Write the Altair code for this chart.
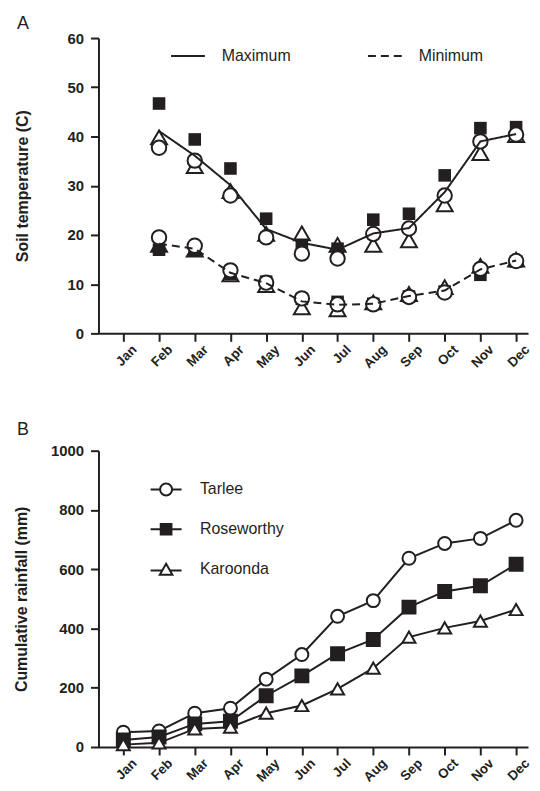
import altair as alt
import pandas as pd

months = ["Jan", "Feb", "Mar", "Apr", "May", "Jun", "Jul", "Aug", "Sep", "Oct", "Nov", "Dec"]
month_num = list(range(1, 13))
temp_num = month_num[1:]  # Feb..Dec

# Panel A: soil temperature (C), Feb-Dec
tarlee_max = [37.7, 35.1, 28.0, 19.5, 16.2, 15.2, 20.2, 21.3, 28.0, 39.0, 40.4]
rose_max = [46.7, 39.4, 33.5, 23.3, 18.0, 17.2, 23.1, 24.3, 32.1, 41.7, 41.9]
karo_max = [39.8, 34.0, 28.9, 20.2, 20.3, 18.0, 18.0, 18.9, 26.2, 36.6, 40.3]
tarlee_min = [19.5, 17.8, 12.8, 10.3, 7.1, 5.9, 5.9, 7.4, 8.3, 13.1, 14.7]
rose_min = [17.0, 16.9, 12.1, 10.5, 7.0, 6.4, 6.0, 7.5, 8.5, 11.9, 14.6]
karo_min = [18.0, 17.0, 12.0, 9.8, 5.3, 4.9, 6.3, 8.0, 9.4, 13.7, 15.0]
max_line = [41.1, 36.1, 30.1, 21.2, 18.4, 17.0, 20.3, 21.4, 28.7, 39.0, 40.5]
min_line = [18.2, 17.2, 12.3, 10.2, 6.5, 5.8, 6.0, 7.6, 8.7, 13.0, 14.8]

# Panel B: cumulative rainfall (mm), Jan-Dec
tarlee_rain = [50, 54, 114, 131, 229, 312, 441, 494, 637, 687, 704, 765]
rose_rain = [24, 34, 78, 87, 173, 240, 315, 363, 472, 525, 544, 617]
karo_rain = [8, 14, 61, 67, 114, 140, 196, 266, 371, 402, 425, 464]

sites = ["Tarlee", "Roseworthy", "Karoonda"]
kinds = ["Maximum", "Minimum"]

INK = "#231f20"
FONT = "Liberation Sans"

# ---------- data tables ----------
def site_pts(vals_max, vals_min, site):
    return pd.DataFrame({
        "m": temp_num * 2,
        "v": vals_max + vals_min,
        "site": [site] * (2 * len(temp_num)),
    })

a_tar = site_pts(tarlee_max, tarlee_min, "Tarlee")
a_ros = site_pts(rose_max, rose_min, "Roseworthy")
a_kar = site_pts(karo_max, karo_min, "Karoonda")
a_lines = pd.DataFrame({
    "m": temp_num * 2,
    "v": max_line + min_line,
    "kind": ["Maximum"] * len(temp_num) + ["Minimum"] * len(temp_num),
})

b_df = pd.DataFrame({
    "m": month_num * 3,
    "v": tarlee_rain + rose_rain + karo_rain,
    "site": ["Tarlee"] * 12 + ["Roseworthy"] * 12 + ["Karoonda"] * 12,
})

# ---------- shared encodings ----------
xscale = alt.Scale(domain=[0.304, 12.334], nice=False, zero=False)
label_expr = "[" + ",".join("'%s'" % m for m in months) + "][datum.value - 1]"
xaxis = alt.Axis(values=month_num, labelExpr=label_expr, labelAngle=-45,
                 labelAlign="right", labelBaseline="top", labelPadding=1,
                 labelOffset=6, title=None)
X = alt.X("m:Q", scale=xscale, axis=xaxis)

ya_axis = alt.Axis(values=[0, 10, 20, 30, 40, 50, 60], title="Soil temperature (C)",
                   titlePadding=37, format="d")
YA = alt.Y("v:Q", scale=alt.Scale(domain=[0, 60], nice=False), axis=ya_axis)

yb_axis = alt.Axis(values=[0, 200, 400, 600, 800, 1000], title="Cumulative rainfall (mm)",
                   titlePadding=21, format="d")
YB = alt.Y("v:Q", scale=alt.Scale(domain=[0, 1000], nice=False), axis=yb_axis)

# ---------- Panel A ----------
a_tri = alt.Chart(a_kar).mark_point(shape="triangle-up", size=256, filled=True,
                                    fill="white", stroke=INK, strokeWidth=2, opacity=1).encode(x=X, y=YA)
a_sq = alt.Chart(a_ros).mark_point(shape="square", size=160, filled=True,
                                   fill=INK, strokeWidth=0, opacity=1).encode(x=X, y=YA)
a_cir = alt.Chart(a_tar).mark_point(shape="circle", size=210, filled=True,
                                    fill="white", stroke=INK, strokeWidth=2, opacity=1).encode(x=X, y=YA)
a_ln = alt.Chart(a_lines).mark_line(color=INK, strokeWidth=2).encode(
    x=X, y=YA,
    strokeDash=alt.StrokeDash(
        "kind:N",
        scale=alt.Scale(domain=kinds, range=[[1, 0], [8, 5]]),
        legend=alt.Legend(orient="none", legendX=72, legendY=0, direction="horizontal",
                          title=None, symbolType="stroke", symbolSize=1156,
                          symbolStrokeWidth=2, symbolStrokeColor=INK,
                          labelFontSize=16, labelFont=FONT, labelColor=INK,
                          labelFontWeight="normal", labelOffset=16, columnPadding=73),
    ),
)

panel_a = alt.layer(a_tri, a_sq, a_cir, a_ln).properties(
    width=432, height=297,
    title=alt.TitleParams("A", anchor="start", frame="group", dx=-82, fontSize=18,
                          fontWeight="normal", font=FONT, color=INK, offset=-1.5),
)

# ---------- Panel B ----------
b_ln = alt.Chart(b_df).mark_line(color=INK, strokeWidth=2).encode(
    x=X, y=YB, detail="site:N")

shape_std = alt.Scale(domain=sites, range=["circle", "square", "triangle-up"])
fill_sc = alt.Scale(domain=sites, range=["white", INK, "white"])
b_pts = alt.Chart(b_df).mark_point(size=170, filled=True, stroke=INK, strokeWidth=2,
                                   opacity=1).encode(
    x=X, y=YB,
    shape=alt.Shape("site:N", scale=shape_std, legend=None),
    fill=alt.Fill("site:N", scale=fill_sc, legend=None),
)

# legend-only layer: symbols with the connecting line drawn through them
leg_paths = [
    "M-2.6,0H-1M1,0H2.6M1,0A1,1,0,1,1,-1,0A1,1,0,1,1,1,0Z",
    "M-2.6,0H-0.9M0.9,0H2.6M-0.9,-0.9H0.9V0.9H-0.9Z",
    "M-2.6,0.25H-0.55M0.55,0.25H2.6M0,-0.9L1.05,0.95H-1.05Z",
]
b_leg_legend = alt.Legend(orient="none", legendX=60, legendY=31, title=None,
                          labelFontSize=16, labelFont=FONT, labelColor=INK,
                          labelFontWeight="normal", labelOffset=26, rowPadding=20,
                          symbolStrokeWidth=2, symbolStrokeColor=INK, symbolSize=144)
b_leg = alt.Chart(b_df).transform_filter("false").mark_point(
    size=144, filled=True, strokeWidth=2, opacity=1).encode(
    x=X, y=YB,
    shape=alt.Shape("site:N", scale=alt.Scale(domain=sites, range=leg_paths),
                    legend=b_leg_legend),
    fill=alt.Fill("site:N", scale=alt.Scale(domain=sites, range=["white", INK, "white"]),
                  legend=b_leg_legend),
    stroke=alt.Stroke("site:N", scale=alt.Scale(domain=sites, range=[INK, INK, INK]),
                      legend=b_leg_legend),
)

panel_b = alt.layer(b_ln, b_pts, b_leg).resolve_scale(
    shape="independent", fill="independent", stroke="independent").properties(
    width=432, height=298,
    title=alt.TitleParams("B", anchor="start", frame="group", dx=-82, fontSize=18,
                          fontWeight="normal", font=FONT, color=INK, offset=5),
)

chart = alt.vconcat(panel_a, panel_b, spacing=50).properties(
    padding={"left": 5, "top": 4, "right": 0, "bottom": 0},
    background="white",
).configure_view(stroke=None).configure_axis(
    grid=False,
    domainColor=INK, domainWidth=2,
    tickColor=INK, tickWidth=2, tickSize=8,
    labelFont=FONT, labelFontSize=15, labelFontWeight="bold", labelColor=INK,
    titleFont=FONT, titleFontSize=16, titleFontWeight="bold", titleColor=INK,
).configure_axisY(labelPadding=7).configure_axisX(labelFontSize=13.5)

chart.save("out.html", embed_options={"renderer": "svg", "actions": False})
